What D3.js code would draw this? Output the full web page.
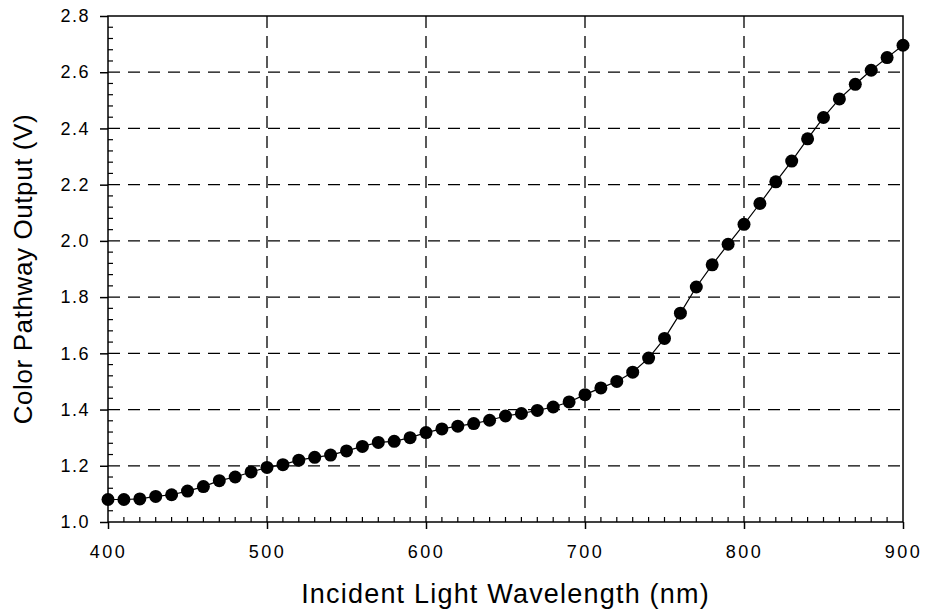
<!DOCTYPE html>
<html>
<head>
<meta charset="utf-8">
<script src="https://cdn.jsdelivr.net/npm/d3@7"></script>
<style>
  body { margin: 0; background: #fff; }
  svg { display: block; font-family: "Liberation Sans", Arial, sans-serif; }
</style>
</head>
<body>
<svg id="chart"></svg>
<script>
// wavelength (nm) and measured output (V)
var wavelength = [400, 410, 420, 430, 440, 450, 460, 470, 480, 490,
                  500, 510, 520, 530, 540, 550, 560, 570, 580, 590,
                  600, 610, 620, 630, 640, 650, 660, 670, 680, 690,
                  700, 710, 720, 730, 740, 750, 760, 770, 780, 790,
                  800, 810, 820, 830, 840, 850, 860, 870, 880, 890, 900];
var output = [1.080, 1.080, 1.082, 1.091, 1.097, 1.110, 1.126, 1.147, 1.160, 1.178,
              1.194, 1.204, 1.220, 1.230, 1.238, 1.253, 1.269, 1.283, 1.287, 1.300,
              1.318, 1.331, 1.341, 1.350, 1.362, 1.377, 1.386, 1.397, 1.409, 1.427,
              1.453, 1.477, 1.500, 1.533, 1.583, 1.653, 1.743, 1.836, 1.915, 1.988,
              2.059, 2.133, 2.210, 2.284, 2.363, 2.439, 2.505, 2.557, 2.607, 2.652, 2.696];

var xTicks = [400, 500, 600, 700, 800, 900];
var yTicks = [1.0, 1.2, 1.4, 1.6, 1.8, 2.0, 2.2, 2.4, 2.6, 2.8];

var width = 927, height = 615;
var margin = {top: 16, right: 24, bottom: 93, left: 108};

var svg = d3.select("#chart")
    .attr("width", width)
    .attr("height", height);

var x = d3.scaleLinear().domain([400, 900]).range([margin.left, width - margin.right]);
var y = d3.scaleLinear().domain([1.0, 2.8]).range([height - margin.bottom, margin.top]);

var x0 = x.range()[0], x1 = x.range()[1];
var y0 = y.range()[0], y1 = y.range()[1];

// dashed grid
svg.append("g").selectAll("line")
    .data(xTicks.slice(1, -1))
    .enter().append("line")
    .attr("x1", d => x(d)).attr("x2", d => x(d))
    .attr("y1", y1).attr("y2", y0)
    .attr("stroke", "#000").attr("stroke-width", 1.3)
    .attr("stroke-dasharray", "12,8");

svg.append("g").selectAll("line")
    .data(yTicks.slice(1, -1))
    .enter().append("line")
    .attr("x1", x0).attr("x2", x1)
    .attr("y1", d => y(d)).attr("y2", d => y(d))
    .attr("stroke", "#000").attr("stroke-width", 1.3)
    .attr("stroke-dasharray", "12,8");

// minor ticks, pointing inward
var xMinor = d3.range(400, 901, 10).filter(d => d % 100 !== 0);
var yMinor = d3.range(0, 46).map(i => 1.0 + i * 0.04).filter((d, i) => i % 5 !== 0);

svg.append("g").selectAll("line")
    .data(xMinor)
    .enter().append("line")
    .attr("x1", d => x(d)).attr("x2", d => x(d))
    .attr("y1", y0).attr("y2", y0 - 5)
    .attr("stroke", "#000").attr("stroke-width", 1.2);

svg.append("g").selectAll("line")
    .data(yMinor)
    .enter().append("line")
    .attr("x1", x0).attr("x2", x0 + 5)
    .attr("y1", d => y(d)).attr("y2", d => y(d))
    .attr("stroke", "#000").attr("stroke-width", 1.2);

// frame
svg.append("rect")
    .attr("x", x0).attr("y", y1)
    .attr("width", x1 - x0).attr("height", y0 - y1)
    .attr("fill", "none").attr("stroke", "#000").attr("stroke-width", 1.5);

// major axes
var xAxis = svg.append("g")
    .attr("transform", "translate(0," + y0 + ")")
    .call(d3.axisBottom(x).tickValues(xTicks).tickSize(7).tickPadding(16).tickFormat(d3.format("d")));
var yAxis = svg.append("g")
    .attr("transform", "translate(" + x0 + ",0)")
    .call(d3.axisLeft(y).tickValues(yTicks).tickSize(8).tickPadding(10).tickFormat(d3.format(".1f")));

[xAxis, yAxis].forEach(function(g) {
    g.select(".domain").remove();
    g.selectAll(".tick line").attr("stroke", "#000").attr("stroke-width", 1.5);
    g.selectAll(".tick text")
        .attr("fill", "#000")
        .style("font-family", "'Liberation Sans', Arial, sans-serif")
        .style("font-size", "18px");
});
xAxis.selectAll(".tick text").style("letter-spacing", "2.5px");
yAxis.selectAll(".tick text").style("letter-spacing", "1.5px");

// axis titles
svg.append("text")
    .attr("x", (x0 + x1) / 2)
    .attr("y", 603)
    .attr("text-anchor", "middle")
    .style("font-size", "27px")
    .style("letter-spacing", "1.2px")
    .text("Incident Light Wavelength (nm)");

svg.append("text")
    .attr("transform", "translate(32," + (y0 + y1) / 2 + ") rotate(-90)")
    .attr("text-anchor", "middle")
    .style("font-size", "26px")
    .style("letter-spacing", "0.6px")
    .text("Color Pathway Output (V)");

// series
var data = wavelength.map((w, i) => ({w: w, v: output[i]}));

svg.append("path")
    .datum(data)
    .attr("fill", "none")
    .attr("stroke", "#000")
    .attr("stroke-width", 1.2)
    .attr("d", d3.line().x(d => x(d.w)).y(d => y(d.v)));

svg.append("g").selectAll("circle")
    .data(data)
    .enter().append("circle")
    .attr("cx", d => x(d.w))
    .attr("cy", d => y(d.v))
    .attr("r", 6.5)
    .attr("fill", "#000");
</script>
</body>
</html>
